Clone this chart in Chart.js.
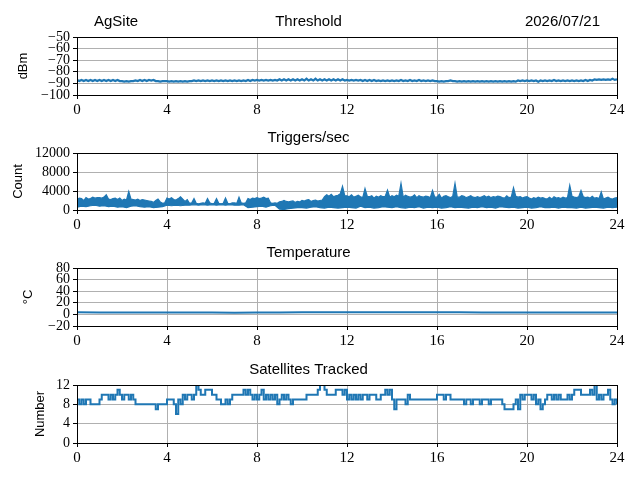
<!DOCTYPE html>
<html>
<head>
<title>AgSite</title>
<script src="https://cdn.jsdelivr.net/npm/chart.js@4.4.1/dist/chart.umd.min.js"></script>
<style>
  html, body { margin: 0; padding: 0; background: #fff; }
  #page { position: relative; width: 640px; height: 480px; overflow: hidden; }
  canvas { position: absolute; left: 0; }
</style>
</head>
<body>
<div id="page">
  <canvas id="c1" width="640" height="116" style="top:7px"></canvas>
  <canvas id="c2" width="640" height="115" style="top:123px"></canvas>
  <canvas id="c3" width="640" height="116" style="top:238px"></canvas>
  <canvas id="c4" width="640" height="116" style="top:355px"></canvas>
</div>
<script>
// time axes: readings every 0.1 h and every 0.2 h over the day
const hours = Array.from({length: 241}, (_, i) => i / 10);
const hours5 = Array.from({length: 121}, (_, i) => i / 5);
const tempHours = [0,1,2,3,4,5,6,7,8,9,10,11,12,13,14,15,16,17,18,19,20,21,22,23,24];
const xTicks = [0, 4, 8, 12, 16, 20, 24];

const siteName = 'AgSite';
const dateText = '2026/07/21';

// dBm
const threshold = [
  -87,-88,-87,-88,-87,-88,-87,-88,-87,-88,
  -87,-88,-87,-88,-87,-88,-87,-88,-87,-88,
  -88,-88.5,-88,-88.5,-88,-88,-87.5,-88,-87,-88,
  -87,-88,-87,-87.5,-87,-88,-88,-88.5,-88,-88,
  -88,-88.5,-88,-88.5,-88,-88.5,-88,-88.5,-88,-88.5,
  -88,-88,-87.5,-88,-87.5,-88,-87.5,-88,-87.5,-88,
  -87.5,-88,-87.5,-88,-87.5,-88,-87.5,-88,-87.5,-88,
  -87.5,-88,-87.5,-88,-87.5,-88,-87,-88,-87,-87.5,
  -87,-87.5,-87,-87.5,-87,-87.5,-87,-87.5,-87,-87.5,
  -86.5,-87.5,-86.5,-87.5,-86.5,-87.5,-86.5,-87.5,-86.5,-87.5,
  -86.5,-87.5,-86,-87.5,-86.5,-87.5,-86,-87.5,-86.5,-87.5,
  -86.5,-87.5,-86.5,-87.5,-86.5,-87.5,-86.5,-87.5,-86.5,-87.5,
  -87,-87.5,-87,-87.5,-87,-87.5,-87,-88,-87,-88,
  -87,-88,-87,-88,-87.5,-88,-87.5,-88,-87.5,-88,
  -87.5,-88,-87.5,-88,-87,-88,-87.5,-88,-87,-88,
  -87.5,-88,-87,-88,-87.5,-88,-87.5,-88,-87.5,-88,
  -88,-88.5,-88,-88.5,-88,-88,-87.5,-88,-88,-88.5,
  -88,-88.5,-88,-88.5,-88,-88.5,-88,-88.5,-88,-88.5,
  -88,-88.5,-88,-88.5,-88,-88.5,-88,-88.5,-88,-88.5,
  -88,-88.5,-88,-88.5,-88,-88.5,-87.5,-88,-87.5,-88,
  -87.5,-88,-87.5,-88,-87.5,-88.5,-87.5,-88,-87.5,-88,
  -87.5,-88,-87,-88,-87.5,-88,-87.5,-88,-87.5,-88,
  -87.5,-88,-87.5,-88,-87.5,-88,-87,-88,-87,-87.5,
  -86.5,-87,-86.5,-87,-86.5,-87,-86.5,-87,-86,-87,
  -86.5
];

// triggers per second: upper edge of the noise band (every 0.1 h, with spikes)
const triggersHigh = [
  2200,2500,2400,2000,2600,2300,2400,2700,2500,2600,
  2600,2500,2700,3200,2300,2200,2400,2500,2200,2500,
  2000,2300,2100,3900,2300,2200,2100,2300,2000,2200,
  2100,2000,1900,1800,1600,2000,2300,1700,1400,1500,
  2500,2300,2600,2200,2100,2400,2800,2300,1800,2200,
  1400,1500,2400,1400,1300,1400,1500,1400,2400,1500,
  1300,1400,2400,1400,1300,1400,2500,1400,1300,1500,
  1500,1400,2700,1500,1400,1500,2400,2200,2500,2400,
  2600,2400,2500,2700,2400,2500,1500,1400,1500,1400,
  1700,1800,2000,1800,1700,1800,1900,1600,1800,1700,
  2000,1900,2100,2200,1800,2000,2100,1900,2000,2100,
  2800,3200,2900,3300,2800,3000,3100,3400,5000,3000,
  3000,2800,3200,2700,2900,3100,2800,2600,4500,2900,
  2800,3000,2500,2900,2700,3000,2800,2900,4200,2700,
  3000,2800,3100,2900,5600,2700,3100,2900,2700,2800,
  3200,2600,3000,2800,2700,2900,2800,2600,4100,2700,
  2700,3300,2500,2900,3000,2800,2600,2900,5600,2700,
  2700,3000,2900,2600,2800,3000,2700,2600,2800,2600,
  2800,3000,2700,2900,2600,2800,2700,2900,2800,2600,
  2500,3000,2600,2700,4700,2900,2700,2800,2500,2700,
  2800,2500,2300,2600,2400,2700,2500,2600,2400,2300,
  2700,2300,2800,2500,2600,2400,2700,2500,2600,5200,
  2900,2700,2600,2800,4100,2800,2600,2700,2500,2900,
  2500,2600,2400,3800,2300,2500,2700,2400,2300,2500,
  2600
];

// triggers per second: lower edge of the noise band (every 0.2 h)
const triggersLow = [
  600,800,700,900,1000,
  800,900,700,800,600,
  700,500,800,900,700,
  600,700,500,600,700,
  1000,900,1000,900,1000,
  1000,1100,1000,1100,1000,
  1100,1000,1100,1000,1100,
  1000,1000,1100,500,600,
  700,800,600,900,1000,
  200,100,300,400,500,
  500,400,600,700,500,
  400,600,500,400,500,
  600,500,400,800,500,
  600,400,500,700,600,
  500,700,500,400,600,
  500,700,400,600,500,
  600,400,500,700,500,
  600,500,400,600,500,
  700,500,600,400,700,
  600,500,600,400,500,
  600,400,500,700,500,
  500,600,400,600,500,
  500,400,600,400,500,
  600,500,400,600,500,
  600
];

// degrees C, hourly
const temperature = [3.5,3.4,3.3,3.2,3.2,3.1,3.1,3.0,3.2,3.4,3.6,3.8,3.9,3.9,3.8,3.7,3.6,3.5,3.4,3.4,3.3,3.3,3.2,3.2,3.3];

// satellites tracked
const satellites = [
  9,8,9,8,9,9,8,8,8,8,
  9,10,10,10,9,10,9,10,11,10,
  9,10,10,9,10,9,8,8,8,8,
  8,8,8,8,8,7,8,8,8,8,
  9,9,9,8,6,9,8,10,9,10,
  10,9,10,12,11,10,10,11,11,11,
  10,10,9,9,8,8,9,8,9,10,
  10,10,10,10,11,10,11,10,9,10,
  9,10,11,9,10,9,10,9,10,8,
  9,10,9,10,9,8,9,9,9,9,
  9,9,10,10,10,10,10,11,12,12,
  11,10,10,10,10,11,11,11,10,11,
  9,10,9,10,9,10,9,10,10,9,
  10,10,10,9,9,10,10,11,10,11,
  9,7,9,9,9,9,8,10,9,9,
  9,9,9,9,9,9,9,9,9,9,
  10,10,10,9,10,10,9,9,9,9,
  9,9,8,9,9,8,9,9,9,8,
  9,9,9,8,9,9,9,9,9,8,
  7,7,7,7,8,9,7,10,9,10,
  10,10,9,10,8,9,7,8,9,10,
  10,9,10,9,10,9,9,9,10,9,
  10,11,11,11,10,10,10,10,11,10,
  12,9,10,9,10,10,11,9,8,9,
  8
];

const BLUE = '#1f77b4';
const GRID = '#b0b0b0';
const serif = 'Liberation Serif';
const sans = 'Liberation Sans';

// black box around the plot area (matplotlib style spines)
const frame = {
  id: 'frame',
  afterDraw(chart) {
    const a = chart.chartArea, ctx = chart.ctx;
    ctx.save();
    ctx.strokeStyle = '#000';
    ctx.lineWidth = 1;
    ctx.strokeRect(Math.round(a.left) + 0.5, Math.round(a.top) + 0.5,
                   Math.round(a.right - a.left), Math.round(a.bottom - a.top));
    ctx.restore();
  }
};

// site name and date beside the first title
const header = {
  id: 'header',
  afterDraw(chart) {
    const ctx = chart.ctx;
    ctx.save();
    ctx.font = '15px ' + sans;
    ctx.fillStyle = '#000';
    ctx.textBaseline = 'middle';
    ctx.textAlign = 'left';
    ctx.fillText(siteName, 94, 15);
    ctx.textAlign = 'right';
    ctx.fillText(dateText, 600, 15);
    ctx.restore();
  }
};

function fmt(v) {
  return String(v).replace('-', '\u2212');
}

function series(x, y, extra) {
  return Object.assign({
    data: x.map((h, i) => ({x: h, y: y[i]})),
    borderColor: BLUE,
    backgroundColor: BLUE,
    borderWidth: 1.6,
    pointRadius: 0,
    tension: 0,
    fill: false
  }, extra || {});
}

function makeChart(id, title, yLabel, labelPad, datasets, yMin, yMax, yTicks, extra) {
  return new Chart(document.getElementById(id), {
    type: 'line',
    data: { datasets: datasets },
    plugins: extra ? [frame, extra] : [frame],
    options: {
      responsive: false,
      animation: false,
      events: [],
      layout: { padding: { left: 0, right: 23, top: 0, bottom: 0 } },
      plugins: {
        legend: { display: false },
        tooltip: { enabled: false },
        title: {
          display: true,
          text: title,
          color: '#000',
          font: { family: sans, size: 15, weight: 'normal' },
          padding: { top: 6, bottom: 6 }
        }
      },
      scales: {
        x: {
          type: 'linear',
          min: 0,
          max: 24,
          afterBuildTicks: s => { s.ticks = xTicks.map(v => ({value: v})); },
          afterFit: s => { s.height = 28; },
          ticks: { color: '#000', font: { family: serif, size: 15 }, padding: 2,
                   maxRotation: 0, autoSkip: false, callback: v => fmt(v) },
          grid: { color: GRID, lineWidth: 1, tickColor: '#000', tickLength: 4 },
          border: { color: '#000', width: 1 }
        },
        y: {
          min: yMin,
          max: yMax,
          afterBuildTicks: s => { s.ticks = yTicks.map(v => ({value: v})); },
          afterFit: s => { s.width = 77; },
          ticks: { color: '#000', font: { family: serif, size: 14, lineHeight: 1 }, padding: 3,
                   autoSkip: false, callback: v => fmt(v) },
          grid: { color: GRID, lineWidth: 1, tickColor: '#000', tickLength: 4 },
          border: { color: '#000', width: 1 },
          title: {
            display: true,
            text: yLabel,
            color: '#000',
            font: { family: sans, size: 13 },
            padding: { top: labelPad, bottom: 0 }
          }
        }
      }
    }
  });
}

makeChart('c1', 'Threshold', 'dBm', 16,
          [series(hours, threshold, { borderWidth: 2.2 })],
          -100, -50, [-100, -90, -80, -70, -60, -50], header);
makeChart('c2', 'Triggers/sec', 'Count', 11,
          [series(hours5, triggersLow, { borderWidth: 1.2 }),
           series(hours, triggersHigh, { borderWidth: 1.2, fill: '-1' })],
          0, 12000, [0, 4000, 8000, 12000]);
makeChart('c3', 'Temperature', '\u00b0C', 21,
          [series(tempHours, temperature, { borderWidth: 2 })],
          -20, 80, [-20, 0, 20, 40, 60, 80]);
makeChart('c4', 'Satellites Tracked', 'Number', 33,
          [series(hours, satellites, { stepped: true, borderWidth: 2 })],
          0, 12, [0, 4, 8, 12]);
</script>
</body>
</html>
